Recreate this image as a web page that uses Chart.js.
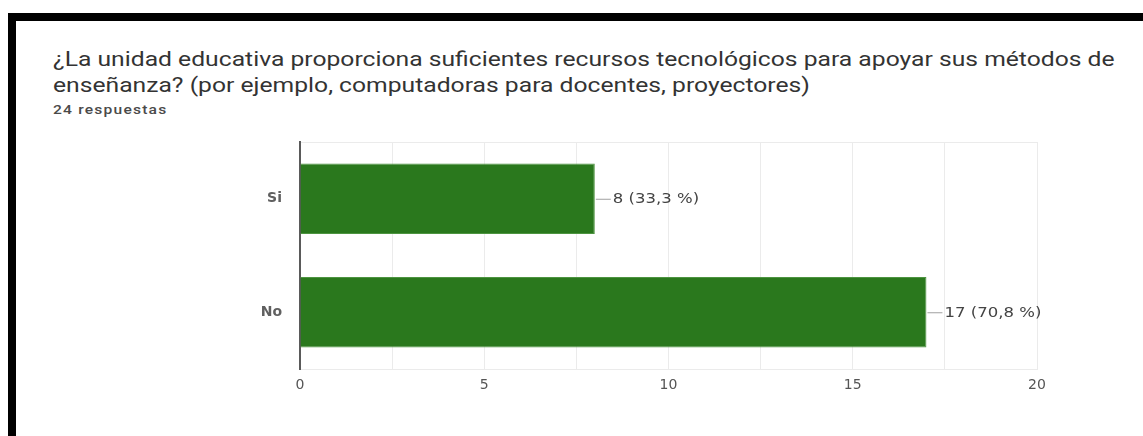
<!DOCTYPE html>
<html>
<head>
  <title>Recursos tecnológicos</title>
  <script src="https://cdn.jsdelivr.net/npm/chart.js"></script>
  <style>
    body {
      margin: 0;
      background-color: #ffffff;
      width: 1143px;
      height: 436px;
      overflow: hidden;
      position: relative;
    }
    .frame-top {
      position: absolute;
      left: 8px;
      top: 13px;
      width: 1135px;
      height: 8px;
      background: #000;
    }
    .frame-left {
      position: absolute;
      left: 8px;
      top: 13px;
      width: 8px;
      height: 423px;
      background: #000;
    }
    .title {
      position: absolute;
      left: 53px;
      top: 46px;
      font-family: Roboto, 'Noto Sans', sans-serif;
      font-size: 21px;
      line-height: 26px;
      color: #333;
      white-space: nowrap;
      transform: scaleX(1.175);
      transform-origin: left top;
    }
    .count {
      position: absolute;
      left: 53px;
      top: 102px;
      font-family: Roboto, sans-serif;
      font-size: 13px;
      font-weight: 500;
      letter-spacing: 1px;
      color: #4a4a4a;
      white-space: nowrap;
      transform: scaleX(1.2);
      transform-origin: left top;
    }
    #chartBox {
      position: absolute;
      left: 0;
      top: 0;
      width: 1143px;
      height: 436px;
    }
  </style>
</head>
<body>
  <div class="frame-top"></div>
  <div class="frame-left"></div>
  <div class="title">¿La unidad educativa proporciona suficientes recursos tecnológicos para apoyar sus métodos de<br>enseñanza? (por ejemplo, computadoras para docentes, proyectores)</div>
  <div class="count">24 respuestas</div>

  <div id="chartBox"><canvas id="barChart"></canvas></div>

  <script>
    // datos del gráfico
    const categories = ['Si', 'No'];
    const responses = [8, 17];
    const totalResponses = 24;
    const xTicks = [0, 5, 10, 15, 20];

    // etiquetas "8 (33,3 %)" al final de cada barra
    const valueLabels = {
      id: 'valueLabels',
      afterDatasetsDraw(chart) {
        const ctx = chart.ctx;
        const meta = chart.getDatasetMeta(0);
        meta.data.forEach((bar, i) => {
          const v = responses[i];
          const pct = (v / totalResponses * 100).toFixed(1).replace('.', ',');
          const x = bar.x;
          const y = bar.y;
          ctx.save();
          ctx.strokeStyle = '#a0a0a0';
          ctx.lineWidth = 1;
          ctx.beginPath();
          ctx.moveTo(x + 1, y + 0.5);
          ctx.lineTo(x + 16, y + 0.5);
          ctx.stroke();
          // el texto del original sale algo estirado a lo ancho
          ctx.translate(x + 18, y + 1);
          ctx.scale(1.18, 1);
          ctx.font = '14px "DejaVu Sans", sans-serif';
          ctx.textBaseline = 'middle';
          ctx.fillStyle = '#444';
          ctx.fillText(v + ' (' + pct + ' %)', 0, 0);
          ctx.restore();
        });
      }
    };

    const ctx = document.getElementById('barChart').getContext('2d');
    new Chart(ctx, {
      type: 'bar',
      data: {
        labels: categories,
        datasets: [{
          data: responses,
          backgroundColor: '#2a781d',
          borderColor: '#4d9440',
          borderWidth: 1,
          borderSkipped: 'left',
          barPercentage: 1,
          categoryPercentage: 0.62
        }]
      },
      options: {
        indexAxis: 'y',
        responsive: true,
        maintainAspectRatio: false,
        animation: false,
        layout: { padding: { left: 0, top: 142, right: 106, bottom: 0 } },
        plugins: {
          legend: { display: false },
          tooltip: { enabled: false }
        },
        scales: {
          x: {
            min: xTicks[0],
            max: xTicks[xTicks.length - 1],
            ticks: {
              stepSize: 2.5,
              autoSkip: false,
              maxRotation: 0,
              padding: 8,
              color: '#555',
              font: { family: '"DejaVu Sans", sans-serif', size: 14 },
              callback: (v) => xTicks.includes(v) ? String(v) : ''
            },
            grid: { color: '#ebebeb', drawTicks: false },
            border: { color: '#ebebeb', width: 1 },
            afterFit: (scale) => { scale.height = 67; }
          },
          xTop: {
            position: 'top',
            min: 0,
            max: 20,
            ticks: { display: false },
            grid: { display: false, drawTicks: false },
            border: { color: '#ebebeb', width: 1 },
            afterFit: (scale) => { scale.height = 0; }
          },
          y: {
            ticks: {
              padding: 18,
              color: '#606060',
              font: { family: '"DejaVu Sans", sans-serif', size: 14, weight: 'bold' }
            },
            grid: { display: false, drawTicks: false },
            border: { color: '#5a5a5a', width: 2 },
            afterFit: (scale) => { scale.width = 300; }
          }
        }
      },
      plugins: [valueLabels]
    });
  </script>
</body>
</html>
